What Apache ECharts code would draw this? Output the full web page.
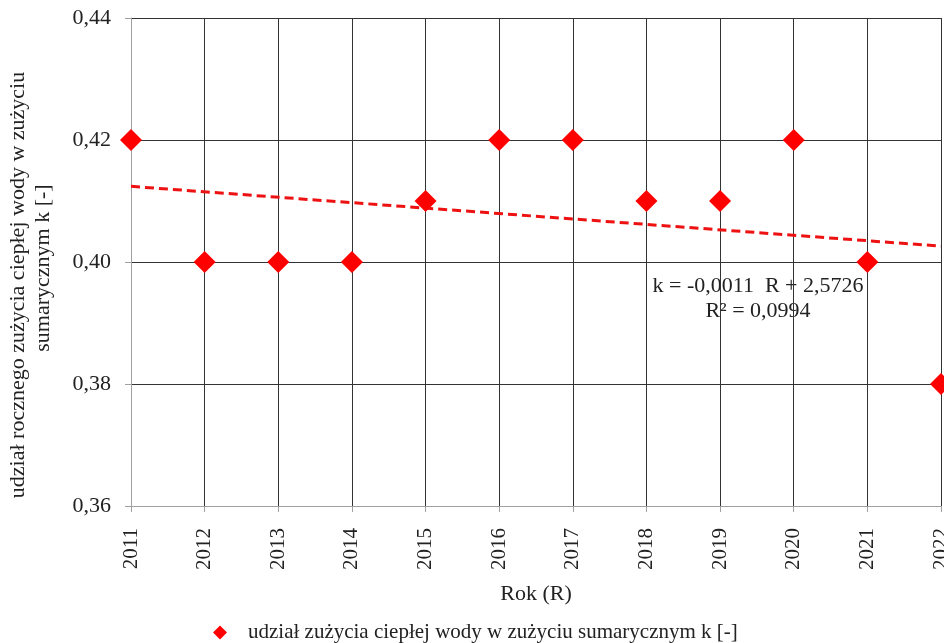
<!DOCTYPE html>
<html><head><meta charset="utf-8">
<script src="https://cdn.jsdelivr.net/npm/echarts@6/dist/echarts.min.js"></script>
<style>html,body{margin:0;padding:0;background:#fff}#c{width:944px;height:643px}</style>
</head><body><div id="c"></div>
<script>
var years = [2011,2012,2013,2014,2015,2016,2017,2018,2019,2020,2021,2022];
var kValues = [0.42,0.40,0.40,0.40,0.41,0.42,0.42,0.41,0.41,0.42,0.40,0.38];
var trendYears = [2011, 2022];
var trendValues = [0.4124, 0.4026];
var yTicks = [0.36,0.38,0.40,0.42,0.44];
var seriesName = 'udział zużycia ciepłej wody w zużyciu sumarycznym k [-]';
var yAxisName1 = 'udział rocznego zużycia ciepłej wody w zużyciu';
var yAxisName2 = 'sumarycznym k [-]';
var xAxisName = 'Rok (R)';
var eqText = 'k = -0,0011  R + 2,5726\nR² = 0,0994';

var F = '"Liberation Serif", "Times New Roman", serif';
var chart = echarts.init(document.getElementById('c'), null, {renderer:'canvas'});
chart.setOption({
  animation:false,
  backgroundColor:'#fff',
  grid:{left:131, right:3, top:18, bottom:137, containLabel:false, outerBoundsMode:'none'},
  xAxis:{type:'value', min:years[0], max:years[years.length-1], interval:1,
    axisLine:{show:true, onZero:false, lineStyle:{color:'#a0a0a0', width:1}},
    axisTick:{show:true, length:6, lineStyle:{color:'#a0a0a0'}},
    splitLine:{show:true, lineStyle:{color:'#333', width:1}},
    axisLabel:{rotate:90, margin:22, fontFamily:F, fontSize:21, color:'#222', hideOverlap:false, showMaxLabel:true, showMinLabel:true, formatter:function(v){return String(v);}},
    name:xAxisName, nameLocation:'middle', nameGap:77, nameTextStyle:{fontFamily:F, fontSize:22, color:'#222'}
  },
  yAxis:{type:'value', min:yTicks[0], max:yTicks[yTicks.length-1], interval:0.02,
    axisLine:{show:true, lineStyle:{color:'#a0a0a0', width:1}},
    axisTick:{show:true, length:6, lineStyle:{color:'#a0a0a0'}},
    splitLine:{show:true, lineStyle:{color:'#333', width:1}},
    axisLabel:{margin:20, fontFamily:F, fontSize:22, color:'#222', formatter:function(v){return v.toFixed(2).replace('.',',');}}
  },
  legend:{show:true, top:617, left:208, icon:'diamond', itemWidth:14, itemHeight:14, itemGap:10,
    data:[seriesName], textStyle:{fontFamily:F, fontSize:21, color:'#222', padding:[0,0,0,16]}},
  graphic:[
    {type:'text', x:18, y:285, rotation:Math.PI/2, style:{text:yAxisName1, fontFamily:F, fontSize:22, fill:'#222', align:'center', verticalAlign:'middle'}},
    {type:'text', x:43, y:268, rotation:Math.PI/2, style:{text:yAxisName2, fontFamily:F, fontSize:22, fill:'#222', align:'center', verticalAlign:'middle'}},
    {type:'text', x:758, y:299, style:{text:eqText, fontFamily:F, fontSize:22, fill:'#222', align:'center', verticalAlign:'middle', lineHeight:25}}
  ],
  series:[
    {name:'trend', type:'line', data:trendYears.map(function(y,i){return [y, trendValues[i]];}),
     symbol:'none', lineStyle:{color:'#ee1111', width:3, type:[9,5]}, z:2, silent:true},
    {name:seriesName, type:'scatter', data:years.map(function(y,i){return [y, kValues[i]];}),
     symbol:'diamond', symbolSize:22, itemStyle:{color:'#ff0000', opacity:1}, clip:false, z:3}
  ]
});
</script></body></html>
